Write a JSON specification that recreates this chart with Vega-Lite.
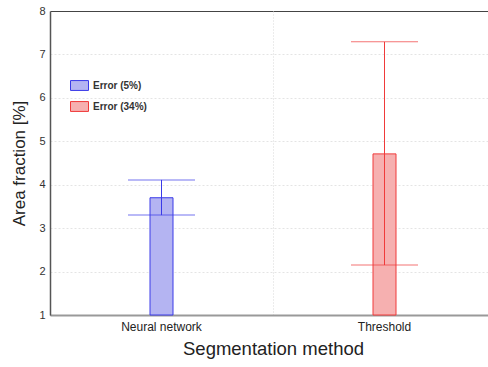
{
  "$schema": "https://vega.github.io/schema/vega-lite/v6.json",
  "autosize": {"type": "none"},
  "padding": {"left": 50, "top": 11, "right": 0, "bottom": 52},
  "width": 446,
  "height": 304,
  "background": "white",
  "config": {
    "font": "Liberation Sans",
    "view": {"stroke": "#444", "strokeWidth": 1}
  },
  "data": {
    "values": [
      {"method": "Neural network", "series": "Error (5%)", "value": 3.7, "lower": 3.3, "upper": 4.11},
      {"method": "Threshold", "series": "Error (34%)", "value": 4.71, "lower": 2.15, "upper": 7.29}
    ]
  },
  "encoding": {
    "x": {
      "field": "method",
      "type": "nominal",
      "sort": null,
      "scale": {"paddingInner": 0, "paddingOuter": 0},
      "axis": {
        "title": "Segmentation method",
        "titleFontSize": 18.5,
        "titleFontWeight": "normal",
        "titleColor": "#222",
        "titlePadding": 7,
        "labelAngle": 0,
        "labelFontSize": 12,
        "labelColor": "#222",
        "labelPadding": 6,
        "ticks": false,
        "domainColor": "#999",
        "domainWidth": 2,
        "grid": true,
        "bandPosition": 0,
        "gridColor": "#d8d8d8",
        "gridDash": [1, 2]
      }
    }
  },
  "layer": [
    {
      "mark": {"type": "bar", "width": 23, "strokeWidth": 1},
      "encoding": {
        "y": {
          "field": "value",
          "type": "quantitative",
          "scale": {"domain": [1, 8], "zero": false, "nice": false},
          "axis": {
            "title": "Area fraction [%]",
            "titleFontSize": 17,
            "titleFontWeight": "normal",
            "titleColor": "#222",
            "titlePadding": 10,
            "values": [1, 2, 3, 4, 5, 6, 7, 8],
            "labelFontSize": 11,
            "labelColor": "#333",
            "labelPadding": 5,
            "ticks": false,
            "domainColor": "#555",
            "domainWidth": 1.5,
            "gridColor": "#e4e4e4",
            "gridOpacity": {"condition": {"test": "datum.value == 8", "value": 0}, "value": 1},
            "gridDash": [2, 2]
          }
        },
        "y2": {"datum": 1},
        "fill": {
          "field": "series",
          "type": "nominal",
          "sort": null,
          "scale": {"domain": ["Error (5%)", "Error (34%)"], "range": ["#b4b4f2", "#f6b0b0"]},
          "legend": {
            "title": null,
            "orient": "none",
            "legendX": 20,
            "legendY": 65,
            "symbolType": "M-1,-0.55L1,-0.55L1,0.55L-1,0.55Z",
            "symbolSize": 324,
            "symbolStrokeWidth": 1,
            "labelFontSize": 10,
            "labelFontWeight": "bold",
            "labelColor": "#333",
            "labelOffset": 4,
            "rowPadding": 4,
            "encode": {
              "symbols": {"update": {"stroke": {"scale": "stroke", "field": "value"}, "opacity": {"value": 1}, "fillOpacity": {"value": 1}}}
            }
          }
        },
        "stroke": {
          "field": "series",
          "type": "nominal",
          "sort": null,
          "scale": {"domain": ["Error (5%)", "Error (34%)"], "range": ["#3a3ae8", "#f03a3a"]},
          "legend": null
        },
        "fillOpacity": {"value": 1}
      }
    },
    {
      "mark": {"type": "rule", "strokeWidth": 1},
      "encoding": {
        "y": {"field": "lower", "type": "quantitative"},
        "y2": {"field": "upper"},
        "stroke": {"field": "series", "type": "nominal", "sort": null, "legend": null, "scale": {"domain": ["Error (5%)", "Error (34%)"], "range": ["#3a3ae8", "#f03a3a"]}}
      }
    },
    {
      "mark": {"type": "tick", "size": 67, "thickness": 1},
      "encoding": {
        "y": {"field": "upper", "type": "quantitative"},
        "color": {"field": "series", "type": "nominal", "sort": null, "legend": null, "scale": {"domain": ["Error (5%)", "Error (34%)"], "range": ["#3a3ae8", "#f03a3a"]}}
      }
    },
    {
      "mark": {"type": "tick", "size": 67, "thickness": 1},
      "encoding": {
        "y": {"field": "lower", "type": "quantitative"},
        "color": {"field": "series", "type": "nominal", "sort": null, "legend": null, "scale": {"domain": ["Error (5%)", "Error (34%)"], "range": ["#3a3ae8", "#f03a3a"]}}
      }
    }
  ]
}
